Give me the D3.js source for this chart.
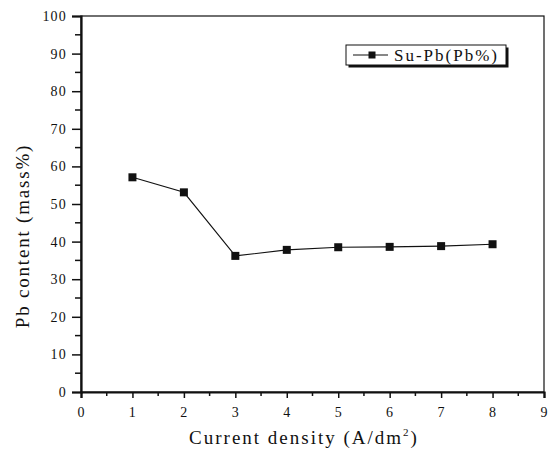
<!DOCTYPE html>
<html>
<head>
<meta charset="utf-8">
<script src="https://cdn.jsdelivr.net/npm/d3@7"></script>
<style>
  body { margin: 0; background: #fff; }
  svg text { font-family: "Liberation Serif", "DejaVu Serif", serif; fill: #111; }
</style>
</head>
<body>
<div id="chart"></div>
<script>
// data
var densities = [1, 2, 3, 4, 5, 6, 7, 8];
var pbContent = [57.1, 53.1, 36.2, 37.8, 38.5, 38.6, 38.8, 39.3];
var xTicks = [0, 1, 2, 3, 4, 5, 6, 7, 8, 9];
var yTicks = [0, 10, 20, 30, 40, 50, 60, 70, 80, 90, 100];
var seriesName = "Su-Pb(Pb%)";

var width = 551, height = 455;
var margin = {top: 16, right: 7, bottom: 63, left: 81};

var svg = d3.select("#chart").append("svg")
  .attr("width", width)
  .attr("height", height);

var x = d3.scaleLinear().domain([0, 9]).range([margin.left, width - margin.right]);
var y = d3.scaleLinear().domain([0, 100]).range([height - margin.bottom, margin.top]);

// frame
svg.append("rect")
  .attr("x", x(0)).attr("y", y(100))
  .attr("width", x(9) - x(0)).attr("height", y(0) - y(100))
  .attr("fill", "none").attr("stroke", "#111").attr("stroke-width", 1.2);

// minor ticks
var yMinor = d3.range(5, 100, 10);
var xMinor = d3.range(0.5, 9, 1);

var yAxis = d3.axisLeft(y).tickValues(yTicks).tickSize(9).tickPadding(5).tickFormat(d3.format("d"));
var gy = svg.append("g").attr("transform", "translate(" + x(0) + ",0)").call(yAxis);
gy.append("g").selectAll("line").data(yMinor).enter().append("line")
  .attr("x1", -6).attr("x2", 0)
  .attr("y1", function (d) { return y(d); }).attr("y2", function (d) { return y(d); })
  .attr("stroke", "#111").attr("stroke-width", 1.5);

var xAxis = d3.axisBottom(x).tickValues(xTicks).tickSize(6).tickPadding(9).tickFormat(d3.format("d"));
var gx = svg.append("g").attr("transform", "translate(0," + y(0) + ")").call(xAxis);
gx.append("g").selectAll("line").data(xMinor).enter().append("line")
  .attr("y1", 0).attr("y2", 4)
  .attr("x1", function (d) { return x(d); }).attr("x2", function (d) { return x(d); })
  .attr("stroke", "#111").attr("stroke-width", 1.5);

[gx, gy].forEach(function (g) {
  g.select(".domain").attr("stroke", "#111").attr("stroke-width", 2.2);
  g.selectAll(".tick line").attr("stroke", "#111").attr("stroke-width", 1.5);
  g.selectAll(".tick text").style("font-size", "14px").style("letter-spacing", "1.2px").attr("fill", "#111");
});

// axis titles
svg.append("text")
  .attr("x", 304).attr("y", 444)
  .attr("text-anchor", "middle")
  .style("font-size", "19px").style("letter-spacing", "2px")
  .html('Current density (A/dm<tspan dy="-8" style="font-size:11px">2</tspan><tspan dy="8">)</tspan>');

svg.append("text")
  .attr("transform", "translate(29,236) rotate(-90)")
  .attr("text-anchor", "middle")
  .style("font-size", "19px").style("letter-spacing", "1.8px")
  .text("Pb content (mass%)");

// series
var pts = densities.map(function (d, i) { return [d, pbContent[i]]; });
var line = d3.line().x(function (d) { return x(d[0]); }).y(function (d) { return y(d[1]); });

svg.append("path")
  .attr("d", line(pts))
  .attr("fill", "none").attr("stroke", "#111").attr("stroke-width", 1.1);

var sq = 8;
svg.append("g").selectAll("rect").data(pts).enter().append("rect")
  .attr("x", function (d) { return x(d[0]) - sq / 2; })
  .attr("y", function (d) { return y(d[1]) - sq / 2; })
  .attr("width", sq).attr("height", sq)
  .attr("fill", "#111");

// legend with drop shadow
var lg = svg.append("g").attr("transform", "translate(346,45)");
lg.append("rect").attr("x", 2.5).attr("y", 2.5).attr("width", 160).attr("height", 20).attr("fill", "#111");
lg.append("rect").attr("x", 0).attr("y", 0).attr("width", 160).attr("height", 20)
  .attr("fill", "#fff").attr("stroke", "#111").attr("stroke-width", 1);
lg.append("line").attr("x1", 7).attr("x2", 42).attr("y1", 10).attr("y2", 10)
  .attr("stroke", "#111").attr("stroke-width", 1.2);
lg.append("rect").attr("x", 26 - 3.5).attr("y", 10 - 3.5).attr("width", 7).attr("height", 7).attr("fill", "#111");
lg.append("text").attr("x", 48).attr("y", 15.5)
  .style("font-size", "17px").style("letter-spacing", "2px")
  .text(seriesName);
</script>
</body>
</html>
